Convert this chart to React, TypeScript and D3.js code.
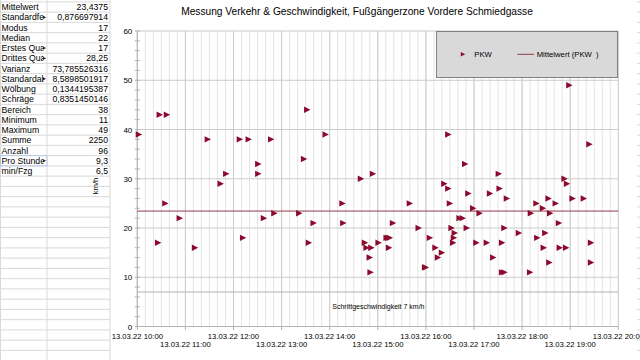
import React from "react";
import * as d3 from "d3";

// ---- data ----
const times = [
  "10:02","10:26","10:28","10:35","10:37","10:53","11:12","11:28","11:44","11:51",
  "12:08","12:12","12:19","12:31","12:31","12:38","12:47","12:51","13:22","13:28",
  "13:32","13:34","13:40","13:55","14:16","14:17","14:39","14:44","14:46","14:50",
  "14:51","14:52","14:54","15:01","15:11","15:13","15:14","15:15","15:19","15:40",
  "15:51","15:59","16:00","16:05","16:12","16:15","16:20","16:23","16:28","16:28",
  "16:30","16:32","16:34","16:35","16:36","16:42","16:46","16:49","16:51","16:53",
  "16:59","17:03","17:07","17:16","17:20","17:24","17:31","17:32","17:35","17:35",
  "17:38","17:38","17:41","17:56","18:10","18:11","18:18","18:19","18:26","18:27",
  "18:29","18:33","18:34","18:35","18:42","18:46","18:47","18:53","18:55","18:56",
  "18:59","19:03","19:17","19:24","19:26","19:26"
];
const speeds = [
  39,17,43,25,43,22,16,38,29,31,
  38,18,38,33,31,22,38,23,23,34,
  44,17,21,39,25,21,30,17,16,14,
  11,16,31,17,18,18,16,18,21,25,
  20,12,12,18,16,14,15,29,28,39,
  25,20,17,18,19,22,22,33,20,27,
  24,17,23,17,27,14,31,28,17,11,
  20,11,26,19,11,23,25,18,24,16,
  19,26,13,23,25,21,16,30,16,29,
  49,26,26,37,17,13
];
const statLabels = [
  "Mittelwert","Standardfehler","Modus","Median","Erstes Quartil","Drittes Quartil",
  "Varianz","Standardabweichung","Wölbung","Schräge","Bereich","Minimum","Maximum",
  "Summe","Anzahl","Pro Stunde","min/Fzg"
];
const statValues = [
  "23,4375","0,876697914","17","22","17","28,25","73,785526316","8,5898501917",
  "0,1344195387","0,8351450146","38","11","49","2250","96","9,3","6,5"
];
const yTicks = [0, 10, 20, 30, 40, 50, 60];
const meanSpeed = 23.4375;
const walkSpeed = 7;
const chartTitle = "Messung Verkehr & Geschwindigkeit, Fußgängerzone Vordere Schmiedgasse";
const seriesName = "PKW";
const meanName = "Mittelwert (PKW  )";
const walkLabel = "Schrittgeschwindigkeit 7 km/h";
const yTitle = "km/h";
const xTitle = "Zeit";

// ---- layout ----
const W = 640, H = 360;
const PL = 137.3, PR = 618.3, PT = 31, PB = 326.5;
const FONT = "'Liberation Sans', Arial, sans-serif";
const MARK = "#8B0A2E";
const MEAN = "#94394F";

const parseT = (s: string) => {
  const [h, m] = s.split(":").map(Number);
  return new Date(2022, 2, 13, h, m);
};

const x = d3.scaleTime().domain([new Date(2022, 2, 13, 10), new Date(2022, 2, 13, 20)]).range([PL, PR]);
const y = d3.scaleLinear().domain([0, 60]).range([PB, PT]);
const fmt = d3.timeFormat("%d.%m.%y %H:%M");

// table
const colA = 47, colB = 110, rowH = 10.25, row0 = 1.9, TF = 8.7;
const clipW = colA - 3.5;
const nRows = Math.ceil((H - row0) / rowH) + 1;

const tri = (cx: number, cy: number, s: number) =>
  `M${cx - s},${cy - s}L${cx + s},${cy}L${cx - s},${cy + s}Z`;

let ctx: CanvasRenderingContext2D | null = null;
const measure = (t: string) => {
  if (!ctx) {
    ctx = document.createElement("canvas").getContext("2d");
    if (ctx) ctx.font = `${TF}px 'Liberation Sans', Arial, sans-serif`;
  }
  return ctx ? ctx.measureText(t).width : t.length * 4.6;
};

export default function App() {
  const hourTicks = x.ticks(d3.timeHour.every(1)!);
  const minorTicks = x.ticks(d3.timeMinute.every(10)!);
  const yMinor = d3.range(0, 61, 2);
  const rows = d3.range(nRows);
  return (
    <svg width={W} height={H} style={{ position: "absolute", left: 0, top: 0, background: "#fff" }}
      fontFamily={FONT}>
      <defs>
        <clipPath id="colAclip"><rect x={0} y={0} width={clipW} height={H} /></clipPath>
      </defs>
      {/* spreadsheet cells */}
      <g>
        {rows.map(i => (
          <line key={"r" + i} x1={0} x2={colB} y1={row0 + i * rowH} y2={row0 + i * rowH} stroke="#d9d9d9" strokeWidth={1} />
        ))}
        <line x1={0.5} x2={0.5} y1={0} y2={H} stroke="#d9d9d9" />
        <line x1={colA} x2={colA} y1={0} y2={H} stroke="#d9d9d9" />
        <line x1={colB} x2={colB} y1={0} y2={H} stroke="#d9d9d9" />
        {rows.map(i => (
          <line key={"rr" + i} x1={637} x2={640} y1={row0 + i * rowH} y2={row0 + i * rowH} stroke="#d9d9d9" />
        ))}
        <rect x={0.5} y={row0 + 15 * rowH} width={colA - 0.5} height={rowH} fill="none" stroke="#aac4e6" strokeWidth={0.8} />
        <g clipPath="url(#colAclip)">
          {statLabels.map((t, i) => (
            <text key={t} x={1.5} y={row0 + i * rowH + 8.2} fontSize={TF} fill="#000">{t}</text>
          ))}
        </g>
        {statLabels.map((t, i) =>
          measure(t) + 1.5 > clipW ? (
            <path key={"a" + i} d={tri(colA - 2.5, row0 + i * rowH + 5.2, 1.6)} fill="#222" />
          ) : null
        )}
        {statValues.map((v, i) => (
          <text key={"v" + i} x={colB - 2} y={row0 + i * rowH + 8.2} fontSize={TF} textAnchor="end" fill="#000">{v}</text>
        ))}
      </g>

      {/* title */}
      <text x={357} y={15.2} fontSize={10.2} textAnchor="middle" fill="#000">{chartTitle}</text>

      {/* gridlines */}
      {minorTicks.map((t, i) => (
        <line key={"mg" + i} x1={x(t)} x2={x(t)} y1={PT} y2={PB} stroke="#e4e4e4" strokeWidth={1} />
      ))}
      {yTicks.map(v => (
        <line key={"hg" + v} x1={PL} x2={PR} y1={y(v)} y2={y(v)} stroke="#cccccc" strokeWidth={1} />
      ))}
      {hourTicks.map((t, i) => (
        <line key={"vg" + i} x1={x(t)} x2={x(t)} y1={PT} y2={PB} stroke="#cccccc" strokeWidth={1} />
      ))}

      {/* axes */}
      <line x1={PL} x2={PL} y1={PT} y2={PB} stroke="#b3b3b3" />
      <line x1={PL} x2={PR} y1={PB} y2={PB} stroke="#b3b3b3" />
      {yMinor.map(v => (
        <line key={"yt" + v} x1={PL - 2.5} x2={PL + 2.5} y1={y(v)} y2={y(v)} stroke="#b3b3b3" />
      ))}
      {yTicks.map(v => (
        <text key={"yl" + v} x={PL - 5} y={y(v) + 3} fontSize={8} textAnchor="end" fill="#000">{v}</text>
      ))}
      {hourTicks.map((t, i) => (
        <g key={"xt" + i}>
          <line x1={x(t)} x2={x(t)} y1={PB} y2={PB + 3.5} stroke="#b3b3b3" />
          <text x={x(t)} y={i % 2 === 0 ? 339 : 347.3} fontSize={7.7} textAnchor="middle" fill="#000">{fmt(t)}</text>
        </g>
      ))}
      <text transform={`translate(98,186) rotate(-90)`} fontSize={7.7} textAnchor="middle" fill="#000">{yTitle}</text>
      <text x={(PL + PR) / 2} y={364.5} fontSize={7.7} textAnchor="middle" fill="#000">{xTitle}</text>

      {/* reference lines */}
      <line x1={PL} x2={PR} y1={y(walkSpeed)} y2={y(walkSpeed)} stroke="#b3b3b3" strokeWidth={1} />
      <text x={332.3} y={309.3} fontSize={7} fill="#000">{walkLabel}</text>
      <line x1={PL} x2={PR} y1={y(meanSpeed)} y2={y(meanSpeed)} stroke={MEAN} strokeWidth={1} />

      {/* points */}
      {times.map((t, i) => (
        <path key={"p" + i} d={tri(x(parseT(t)), y(speeds[i]), 3.2)} fill={MARK} />
      ))}

      {/* legend */}
      <rect x={436.5} y={31.5} width={181} height={46} fill="#d9d9d9" stroke="#808080" strokeWidth={1} />
      <path d={tri(463, 54.3, 2.2)} fill={MARK} />
      <text x={474.3} y={57} fontSize={7.7} fill="#000">{seriesName}</text>
      <line x1={517.3} x2={534} y1={54.3} y2={54.3} stroke={MEAN} strokeWidth={1} />
      <text x={536.7} y={57} fontSize={7.7} fill="#000" style={{ whiteSpace: "pre" }}>{meanName}</text>
    </svg>
  );
}
